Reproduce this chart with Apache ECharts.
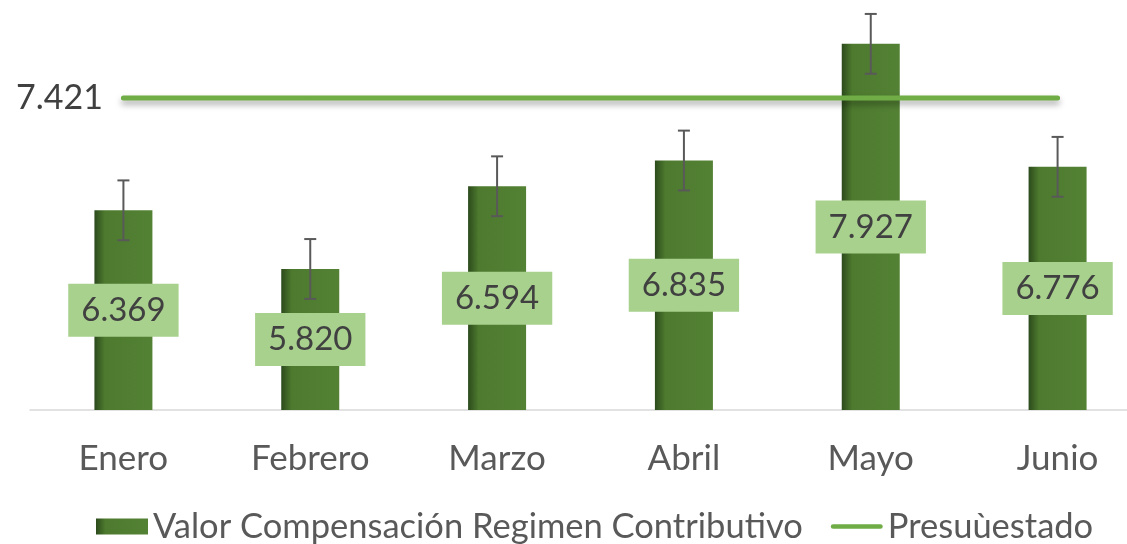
<!DOCTYPE html>
<html>
<head>
<meta charset="utf-8">
<script src="https://cdn.jsdelivr.net/npm/echarts@6/dist/echarts.min.js"></script>
<style>
  html, body { margin: 0; padding: 0; background: #fff; overflow: hidden; }
  #chart { width: 1151px; height: 544px; }
</style>
</head>
<body>
<div id="chart"></div>
<script>
  // datos
  var meses = ['Enero', 'Febrero', 'Marzo', 'Abril', 'Mayo', 'Junio'];
  var valores = [6.369, 5.820, 6.594, 6.835, 7.927, 6.776];
  var presupuesto = [7.421, 7.421, 7.421, 7.421, 7.421, 7.421];
  var errores = [0.28, 0.28, 0.28, 0.28, 0.28, 0.28];

  var fuente = 'Lato, "Open Sans", sans-serif';
  var chart = echarts.init(document.getElementById('chart'));

  var barColor = new echarts.graphic.LinearGradient(0, 0, 1, 0, [
    { offset: 0, color: '#2c4a1c' },
    { offset: 0.18, color: '#4d7a2e' },
    { offset: 1, color: '#548235' }
  ]);

  chart.setOption({
    animation: false,
    grid: { left: 30, right: 0, top: 4, bottom: 134 },
    legend: {
      left: 91,
      top: 504,
      itemWidth: 52,
      itemHeight: 16,
      itemGap: 28,
      textStyle: { fontFamily: fuente, fontSize: 34.5, color: '#595959' },
      data: [
        { name: 'Valor Compensación Regimen Contributivo', icon: 'rect' },
        { name: 'Presuùestado', icon: 'path://M2.5,0 L52.5,0 A2.5,2.5 0 0 1 52.5,5 L2.5,5 A2.5,2.5 0 0 1 2.5,0 Z' }
      ]
    },
    xAxis: {
      type: 'category',
      data: meses,
      axisLine: { lineStyle: { color: '#d9d9d9', width: 1.5 } },
      axisTick: { show: false },
      axisLabel: { fontFamily: fuente, fontSize: 35, color: '#595959', margin: 31 }
    },
    yAxis: {
      type: 'value',
      min: 4.5,
      max: 8.3,
      show: false,
      splitLine: { show: false }
    },
    series: [
      {
        name: 'Valor Compensación Regimen Contributivo',
        type: 'bar',
        data: valores,
        barWidth: 58,
        itemStyle: { color: barColor },
        label: {
          show: true,
          position: 'inside',
          formatter: function (p) { return p.value.toFixed(3); },
          fontFamily: fuente,
          fontSize: 33,
          color: '#404040',
          backgroundColor: '#a9d18e',
          padding: [11, 13, 9, 13]
        },
        z: 2
      },
      {
        name: 'errores',
        type: 'custom',
        data: valores.map(function (v, i) { return [i, v - errores[i], v + errores[i]]; }),
        renderItem: function (params, api) {
          var lo = api.coord([api.value(0), api.value(1)]);
          var hi = api.coord([api.value(0), api.value(2)]);
          var w = 6;
          var st = { stroke: '#595959', lineWidth: 2 };
          return {
            type: 'group',
            children: [
              { type: 'line', shape: { x1: hi[0], y1: hi[1], x2: lo[0], y2: lo[1] }, style: st },
              { type: 'line', shape: { x1: hi[0] - w, y1: hi[1], x2: hi[0] + w, y2: hi[1] }, style: st },
              { type: 'line', shape: { x1: lo[0] - w, y1: lo[1], x2: lo[0] + w, y2: lo[1] }, style: st }
            ]
          };
        },
        z: 3
      },
      {
        name: 'Presuùestado',
        type: 'line',
        data: presupuesto,
        symbol: 'circle',
        symbolSize: 1,
        itemStyle: { color: '#70ad47' },
        lineStyle: {
          color: '#70ad47',
          width: 5,
          cap: 'round',
          shadowColor: 'rgba(0,0,0,0.35)',
          shadowBlur: 6,
          shadowOffsetY: 4
        },
        label: {
          show: true,
          position: 'left',
          distance: 20,
          fontFamily: fuente,
          fontSize: 34,
          color: '#404040',
          formatter: function (p) { return p.dataIndex === 0 ? p.value.toFixed(3) : ''; }
        },
        z: 4
      }
    ]
  });
</script>
</body>
</html>
